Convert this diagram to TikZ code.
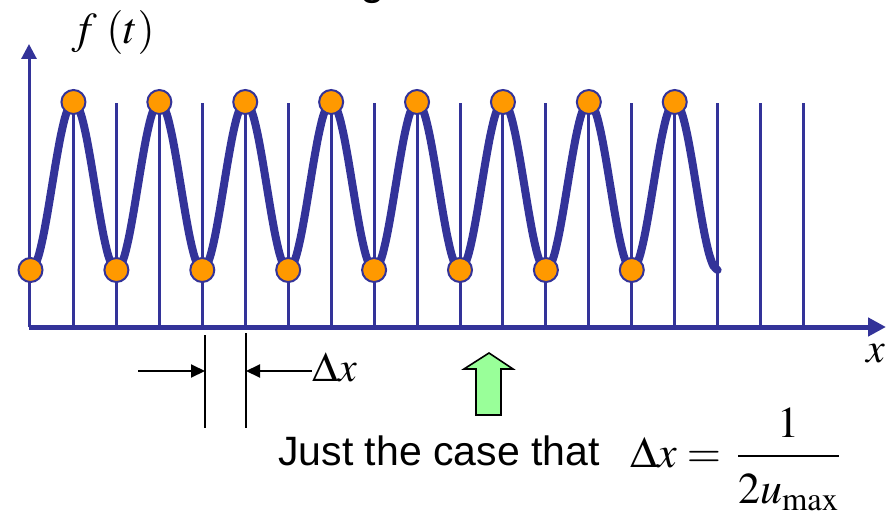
\documentclass[tikz,border=0pt]{standalone}
\usepackage{amsmath}
\usepackage{mathptmx}
\usepackage[no-math]{fontspec}
\setmainfont{Liberation Sans}
\usepackage{xcolor}
\usepackage{tikz}
\usetikzlibrary{arrows.meta, calc}

\definecolor{sigblue}{HTML}{333399}
\definecolor{sigorange}{HTML}{FF9900}
\definecolor{hintgreen}{HTML}{99FF99}

\begin{document}
\begin{tikzpicture}[x=0.5pt, y=-0.5pt,
  comb/.style={sigblue, line width=1.5pt},
  wave/.style={sigblue, line width=4pt, line cap=round},
  sample/.style={circle, fill=sigorange, draw=sigblue, line width=1pt, minimum size=12pt, inner sep=0pt},
  dimline/.style={black, line width=1pt},
  dimarrow/.style={dimline, -{Triangle[length=7pt, width=6.5pt]}},
  lbl/.style={inner sep=0pt, font=\fontsize{21}{25}\selectfont}]
\useasboundingbox (0,0) rectangle (893,524);
\pgfmathsetmacro{\xstart}{30.5}
\pgfmathsetmacro{\spacing}{42.95}

% title, cut off at the top
\node[inner sep=0pt, anchor=base, font=\fontsize{22}{26}\selectfont] (title) at (373,-5) {g};

% sampling comb
\foreach \k in {1,...,18}
  \draw[comb] ({\xstart+\spacing*\k},325) -- ({\xstart+\spacing*\k},103);

% signal
\draw[wave] plot[domain=0:16, samples=161, smooth] ({\xstart+\spacing*\x},{186+84*cos(180*\x)});

% axes
\coordinate (O) at (29,327);
\coordinate (xend) at (886,327);
\coordinate (yend) at (29,44);
\draw[sigblue, line width=2.5pt, -{Triangle[length=9pt, width=9pt]}] (O) -- (xend);
\draw[sigblue, line width=1.5pt, -{Triangle[length=7.5pt, width=7.5pt]}] (O) -- (yend);
\node[lbl, anchor=base west, font=\fontsize{22}{26}\selectfont] (ft) at (71,44) {$f\;(t)$};
\node[lbl, anchor=base] (xl) at (876,362) {$x$};

% samples at peaks and troughs
\foreach \k in {0,...,15}
  \node[sample] (s\k) at ({\xstart+\spacing*\k},{186+84*cos(180*\k)}) {};

% sampling interval
\coordinate (la) at (205,371);
\coordinate (ra) at (246,371);
\draw[dimline] (205,335) -- (205,428);
\draw[dimline] (246,333) -- (246,428);
\node[lbl, anchor=base west] (dx) at (312,381) {$\Delta x$};
\draw[dimarrow] (138,371) -- (la);
\draw[dimarrow] (dx.west |- ra) -- (ra);

% pointer
\draw[fill=hintgreen, line width=0.8pt, line join=miter]
  (476,415) -- (476,369) -- (464,369) -- (489,353) -- (513,369) -- (501,369) -- (501,415) -- cycle;

\node[lbl, anchor=base west, font=\fontsize{20.5}{24}\selectfont] (note) at (278,465) {Just the case that};
\node[lbl, anchor=base west, font=\fontsize{22}{26}\selectfont] (cond) at (630,467)
  {$\Delta x=\,\displaystyle\frac{1}{\rule{0pt}{0.95em}2u_{\max}}$};
\end{tikzpicture}
\end{document}
